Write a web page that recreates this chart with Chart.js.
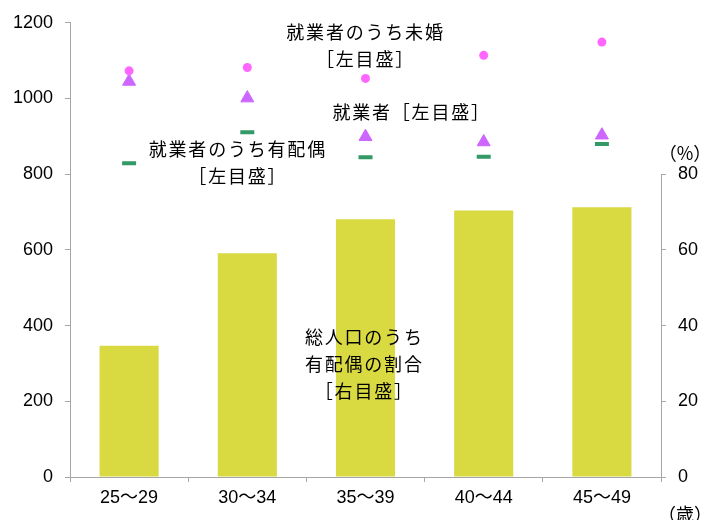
<!DOCTYPE html>
<html>
<head>
<meta charset="utf-8">
<script src="https://cdn.jsdelivr.net/npm/chart.js@4.4.0/dist/chart.umd.min.js"></script>
<style>
  html, body { margin: 0; padding: 0; background: #fff; }
  #wrap { width: 710px; height: 520px; }
</style>
</head>
<body>
<div id="wrap"><canvas id="chart"></canvas></div>
<script>
// 年齢階級
var ageGroups = ['25～29', '30～34', '35～39', '40～44', '45～49'];
// 左目盛（万人）
var workersUnmarried = [1073, 1082, 1053, 1114, 1149];
var workersAll = [1045, 1001, 899, 885, 903];
var workersMarried = [829, 911, 845, 846, 880];
// 右目盛（%）
var marriedRatio = [34.7, 59.1, 68.1, 70.4, 71.3];

var leftTicks = [0, 200, 400, 600, 800, 1000, 1200];
var rightTicks = [0, 20, 40, 60, 80];

var AXIS_GRAY = '#a6a6a6';
var NUM_FONT = '"Liberation Sans", Arial, "Noto Sans CJK JP", sans-serif';
var JP_FONT = '"Noto Sans CJK JP", "Noto Sans", sans-serif';

// 系列ごとの説明文（x はカテゴリ位置、y は左目盛の値）
var notes = [
  { lines: ['就業者のうち未婚', '［左目盛］'], x: 2.0, y: 1176 },
  { lines: ['就業者［左目盛］'], x: 2.39, y: 964 },
  { lines: ['就業者のうち有配偶', '［左目盛］'], x: 0.92, y: 866 },
  { lines: ['総人口のうち', '有配偶の割合', '［右目盛］'], x: 1.99, y: 370 }
];

var notesPlugin = {
  id: 'notes',
  afterDraw: function(chart) {
    var ctx = chart.ctx;
    var xs = chart.scales.x, ys = chart.scales.y, y1 = chart.scales.y1;
    ctx.save();

    // right axis line only up to 80
    ctx.strokeStyle = AXIS_GRAY;
    ctx.lineWidth = 1;
    ctx.beginPath();
    ctx.moveTo(Math.round(y1.left) + 0.5, y1.getPixelForValue(0));
    ctx.lineTo(Math.round(y1.left) + 0.5, y1.getPixelForValue(80));
    ctx.stroke();

    ctx.fillStyle = '#000';
    ctx.textAlign = 'center';
    ctx.textBaseline = 'middle';
    ctx.font = '18px ' + JP_FONT;
    if ('letterSpacing' in ctx) ctx.letterSpacing = '1.8px';
    notes.forEach(function(n) {
      var px = xs.getPixelForValue(n.x);
      var py = ys.getPixelForValue(n.y);
      n.lines.forEach(function(t, i) {
        ctx.fillText(t, px, py + i * 27);
      });
    });

    // units
    if ('letterSpacing' in ctx) ctx.letterSpacing = '0px';
    ctx.fillText('（%）', y1.left + 24, y1.getPixelForValue(80) - 21);
    ctx.fillText('（歳）', y1.left + 24, xs.bottom - 6);
    ctx.restore();
  }
};

function plainNumber(v) { return String(v); }

var ctx = document.getElementById('chart').getContext('2d');
var myChart = new Chart(ctx, {
  type: 'bar',
  data: {
    labels: ageGroups,
    datasets: [
      {
        type: 'line',
        label: '就業者のうち未婚',
        data: workersUnmarried,
        yAxisID: 'y',
        showLine: false,
        pointStyle: 'circle',
        pointRadius: 4.5,
        pointBackgroundColor: '#ff66ff',
        pointBorderColor: '#ff66ff',
        pointBorderWidth: 0,
        order: 1
      },
      {
        type: 'line',
        label: '就業者',
        data: workersAll,
        yAxisID: 'y',
        showLine: false,
        pointStyle: 'triangle',
        pointRadius: 7.5,
        pointBackgroundColor: '#cc66ff',
        pointBorderColor: '#cc66ff',
        pointBorderWidth: 1,
        order: 2
      },
      {
        type: 'line',
        label: '就業者のうち有配偶',
        data: workersMarried,
        yAxisID: 'y',
        showLine: false,
        pointStyle: 'line',
        pointRadius: 7,
        pointBorderColor: '#339966',
        pointBackgroundColor: '#339966',
        pointBorderWidth: 4,
        order: 3
      },
      {
        type: 'bar',
        label: '総人口のうち有配偶の割合',
        data: marriedRatio,
        yAxisID: 'y1',
        backgroundColor: '#d9d942',
        borderWidth: 0,
        barPercentage: 0.5,
        categoryPercentage: 1.0,
        order: 10
      }
    ]
  },
  options: {
    responsive: true,
    maintainAspectRatio: false,
    animation: false,
    layout: { padding: { top: 20, left: 0, right: 0, bottom: 0 } },
    plugins: {
      legend: { display: false },
      tooltip: { enabled: false }
    },
    scales: {
      x: {
        offset: true,
        grid: {
          offset: true,
          drawOnChartArea: false,
          drawTicks: true,
          tickLength: 5,
          color: AXIS_GRAY
        },
        border: { color: AXIS_GRAY },
        ticks: {
          color: '#000',
          font: { family: NUM_FONT, size: 18 },
          padding: 5,
          maxRotation: 0
        },
        afterFit: function(s) { s.height = 43; }
      },
      y: {
        position: 'left',
        min: 0,
        max: 1200,
        afterBuildTicks: function(s) {
          s.ticks = leftTicks.map(function(v) { return { value: v }; });
        },
        grid: {
          drawOnChartArea: false,
          drawTicks: true,
          tickLength: 5,
          color: AXIS_GRAY
        },
        border: { color: AXIS_GRAY },
        ticks: {
          color: '#000',
          font: { family: NUM_FONT, size: 18 },
          padding: 12,
          callback: plainNumber
        },
        afterFit: function(s) { s.width = 70; }
      },
      y1: {
        position: 'right',
        min: 0,
        max: 120,
        afterBuildTicks: function(s) {
          s.ticks = rightTicks.map(function(v) { return { value: v }; });
        },
        grid: {
          drawOnChartArea: false,
          drawTicks: true,
          tickLength: 5,
          color: AXIS_GRAY
        },
        border: { display: false },
        ticks: {
          color: '#000',
          font: { family: NUM_FONT, size: 18 },
          padding: 12,
          callback: plainNumber
        },
        afterFit: function(s) { s.width = 49; }
      }
    }
  },
  plugins: [notesPlugin]
});
</script>
</body>
</html>
